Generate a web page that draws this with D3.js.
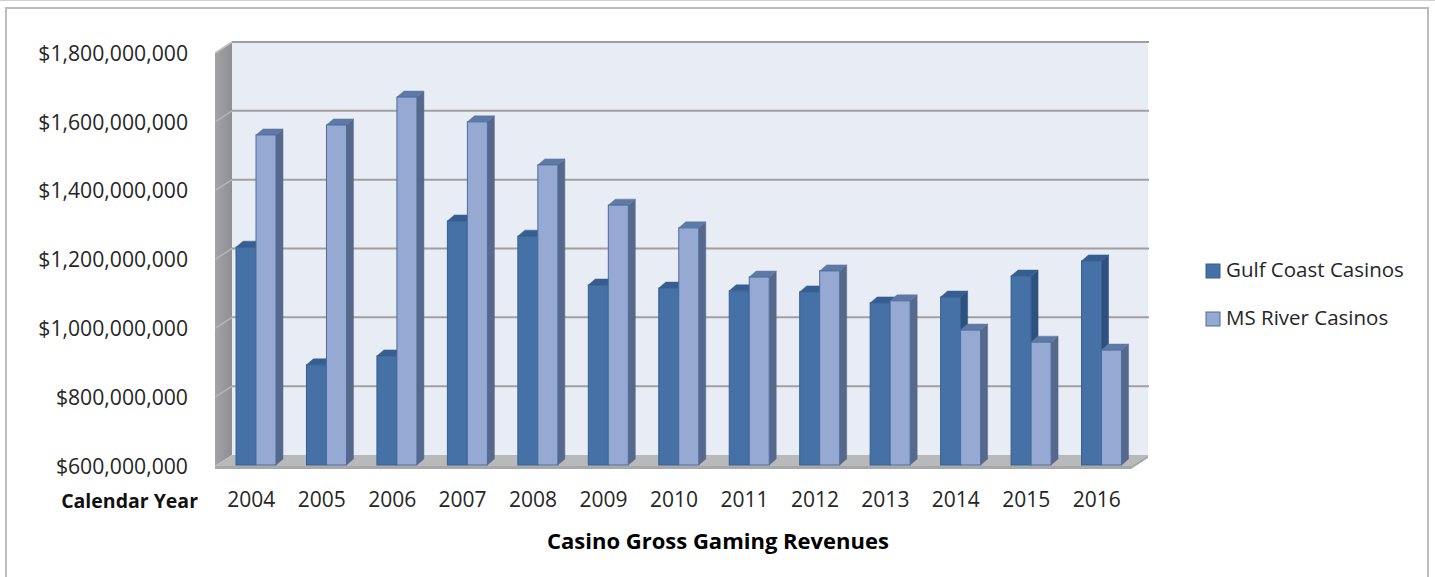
<!DOCTYPE html>
<html>
<head>
<meta charset="utf-8">
<script src="https://cdn.jsdelivr.net/npm/d3@7"></script>
<style>
  html, body { margin: 0; padding: 0; background: #fff; }
  svg { display: block; }
  text { font-family: "Open Sans", "Noto Sans", sans-serif; }
</style>
</head>
<body>
<svg id="chart" width="1435" height="577"></svg>
<script>
// data (dollars)
const years = ["2004","2005","2006","2007","2008","2009","2010","2011","2012","2013","2014","2015","2016"]
const seriesNames = ["Gulf Coast Casinos", "MS River Casinos"]
const gulfCoast = [1233e6, 891e6, 917e6, 1309e6, 1265e6, 1123e6, 1114e6, 1106e6, 1103e6, 1071e6, 1088e6, 1149e6, 1193e6]
const msRiver = [1559e6, 1588e6, 1669e6, 1597e6, 1472e6, 1355e6, 1289e6, 1146e6, 1164e6, 1077e6, 992e6, 957e6, 934e6]
const yTicks = [600e6, 800e6, 1000e6, 1200e6, 1400e6, 1600e6, 1800e6]

const svg = d3.select("#chart")

// page + chart frame
svg.append("line").attr("x1", 0).attr("x2", 1435).attr("y1", 0.5).attr("y2", 0.5)
    .attr("stroke", "#d0d0d0").attr("stroke-width", 1)
svg.append("rect").attr("x", 6).attr("y", 8).attr("width", 1422).attr("height", 600)
    .attr("fill", "#fff").attr("stroke", "#bcbcbc").attr("stroke-width", 2)

// 3d box: front plane and back plane, depth vector
const DX = 17, DY = -11
const left = 215, right = 1131
const yFront = d3.scaleLinear().domain([600e6, 1800e6]).range([466, 53])
const yBack = d3.scaleLinear().domain([600e6, 1800e6]).range([466 + DY, 53 + DY])
const x = d3.scaleBand().domain(years).range([left, right])
const xSub = d3.scaleBand().domain(seriesNames).range([21, 61])

const walls = svg.append("g")

// back wall
walls.append("rect")
    .attr("x", left + DX).attr("y", yBack(1800e6))
    .attr("width", right - left).attr("height", yBack(600e6) - yBack(1800e6))
    .attr("fill", "#e8ecf5")

// side wall
const sideGrad = svg.append("defs").append("linearGradient").attr("id", "side")
    .attr("x1", 0).attr("x2", 1).attr("y1", 0).attr("y2", 0)
sideGrad.append("stop").attr("offset", 0).attr("stop-color", "#a3a3a6")
sideGrad.append("stop").attr("offset", 1).attr("stop-color", "#8e8f93")
walls.append("polygon")
    .attr("points", [[left, yFront(1800e6)], [left + DX, yBack(1800e6)], [left + DX, yBack(600e6)], [left, yFront(600e6)]].join(" "))
    .attr("fill", "url(#side)")

// gridlines on back wall + side wall
yTicks.forEach(t => {
    if (t > 600e6) {
        walls.append("line")
            .attr("x1", left + DX).attr("x2", right + DX + 1)
            .attr("y1", yBack(t)).attr("y2", yBack(t))
            .attr("stroke", "#a0a0a0").attr("stroke-width", 2)
    }
    if (t > 600e6 && t < 1800e6) {
        walls.append("line")
            .attr("x1", left).attr("x2", left + DX)
            .attr("y1", yFront(t)).attr("y2", yBack(t))
            .attr("stroke", "#b5b5b8").attr("stroke-width", 1.5)
    }
})
walls.append("line")
    .attr("x1", left).attr("x2", left + DX)
    .attr("y1", yFront(1800e6)).attr("y2", yBack(1800e6))
    .attr("stroke", "#c4c4c4").attr("stroke-width", 1.5)

// floor
walls.append("polygon")
    .attr("points", [[left, yFront(600e6)], [right, yFront(600e6)], [right + DX, yBack(600e6)], [left + DX, yBack(600e6)]].join(" "))
    .attr("fill", "#b8b9bb")
walls.append("polygon")
    .attr("points", [[left, yFront(600e6)], [right, yFront(600e6)], [right + DX, yBack(600e6)], [right + DX, yBack(600e6) + 3], [right, yFront(600e6) + 3], [left, yFront(600e6) + 3]].join(" "))
    .attr("fill", "#a7a8aa")

// bars
const colors = {
    "Gulf Coast Casinos": { front: "#4571a7", top: "#365e90", side: "#2e5180", stroke: "#36608f" },
    "MS River Casinos": { front: "#95a9d3", top: "#5f79a6", side: "#56698c", stroke: "#4b6c9c" }
}
const bdx = 7, bdy = 6
const base = yFront(600e6) - 1
const bars = svg.append("g")

years.forEach((yr, i) => {
    [[seriesNames[0], gulfCoast[i]], [seriesNames[1], msRiver[i]]].forEach(([name, v]) => {
        const c = colors[name]
        const x0 = x(yr) + xSub(name)
        const w = xSub.bandwidth()
        const yt = yFront(v) - 1
        const g = bars.append("g")
        g.append("polygon")
            .attr("points", [[x0 + w, yt], [x0 + w + bdx, yt - bdy], [x0 + w + bdx, base - bdy], [x0 + w, base]].join(" "))
            .attr("fill", c.side).attr("stroke", c.side).attr("stroke-width", 0.5)
        g.append("polygon")
            .attr("points", [[x0, yt], [x0 + bdx, yt - bdy], [x0 + w + bdx, yt - bdy], [x0 + w, yt]].join(" "))
            .attr("fill", c.top).attr("stroke", c.top).attr("stroke-width", 0.5)
        g.append("rect")
            .attr("x", x0).attr("y", yt).attr("width", w).attr("height", base - yt)
            .attr("fill", c.front).attr("stroke", c.stroke).attr("stroke-width", 1)
    })
})

// y axis labels (front plane)
const fmt = d3.format("$,.0f")
svg.append("g").selectAll("text").data(yTicks).join("text")
    .attr("x", 188).attr("y", d => yFront(d) + 2)
    .attr("text-anchor", "end").attr("dominant-baseline", "middle")
    .attr("font-size", 21.2).attr("fill", "#262626")
    .text(d => fmt(d))

// x axis labels
svg.append("g").selectAll("text").data(years).join("text")
    .attr("x", d => x(d) + x.bandwidth() / 2 + 1).attr("y", 507)
    .attr("text-anchor", "middle")
    .attr("font-size", 21).attr("fill", "#262626")
    .text(d => d)

svg.append("text").attr("x", 198).attr("y", 508).attr("text-anchor", "end")
    .attr("font-size", 19.5).attr("font-weight", "bold").attr("fill", "#111")
    .text("Calendar Year")

svg.append("text").attr("x", 718).attr("y", 549).attr("text-anchor", "middle")
    .attr("font-size", 22).attr("font-weight", "bold").attr("fill", "#000")
    .text("Casino Gross Gaming Revenues")

// legend
const legend = svg.append("g")
seriesNames.forEach((name, i) => {
    const ly = 271 + i * 48
    legend.append("rect").attr("x", 1206).attr("y", ly - 7).attr("width", 14).attr("height", 14)
        .attr("fill", colors[name].front).attr("stroke", colors[name].stroke).attr("stroke-width", 1)
    legend.append("text").attr("x", 1226).attr("y", ly + 6)
        .attr("font-size", 20.5).attr("fill", "#262626")
        .text(name)
})
</script>
</body>
</html>
